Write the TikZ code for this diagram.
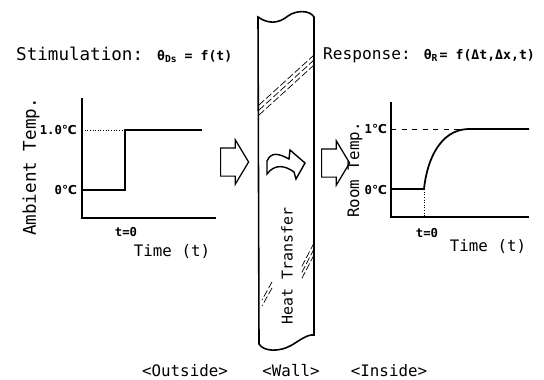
\documentclass[tikz,border=0pt]{standalone}
\usepackage{fontspec}
\setmainfont{DejaVu Sans Mono}
\newfontfamily\symfont{DejaVu Sans}
\usetikzlibrary{shapes.arrows}
\newcommand\degc{{\symfont ℃}}
\newcommand\lowsub[1]{\raisebox{-.35ex}{\fontsize{5.5}{6}\selectfont\bfseries #1}}
\newcommand\frm[1]{{\fontsize{7.5}{9}\selectfont\bfseries #1}}
\tikzset{
  ax/.style ={line width=.8pt},
  crv/.style={line width=1pt},
  gd/.style ={densely dotted,line width=.5pt},
  brk/.style={dash pattern=on 4pt off 1.5pt,line width=.4pt},
  blk/.style={single arrow,draw,line width=.7pt,minimum height=.56cm,
              inner xsep=0pt,inner ysep=.27cm,single arrow head extend=.16cm,
              single arrow tip angle=118,anchor=tail},
  ttl/.style={font=\fontsize{10}{12}\selectfont,anchor=west},
  lbl/.style={font=\fontsize{9}{11}\selectfont},
  tk/.style ={font=\fontsize{7}{8}\selectfont\bfseries,inner sep=1pt},
}

\begin{document}
\begin{tikzpicture}[x=0.02cm,y=-0.02cm]
  \useasboundingbox (0,0) rectangle (544,379);
  \node[ttl] (stim) at (10,55) {Stimulation: \frm{θ\lowsub{Ds} = f(t)}};
  \node[ttl,font=\fontsize{9.2}{11}\selectfont] (resp) at (317,55)
    {Response: \frm{θ\lowsub{R}\,= f(Δt,Δx,t)}};

  % outside: step input
  \draw[ax] (82,98) -- (82,218) -- (216,218);
  \draw[gd] (82,130) -- (125,130);
  \draw[crv] (82,190) -- (125,190) -- (125,130) -- (202,130);
  \node[tk,anchor=east] (a1) at (79,130) {1.0\degc};
  \node[tk,anchor=east] (a0) at (79,190) {0\degc};
  \node[tk] (at0) at (126,232) {t=0};
  \node[lbl] (atime) at (172,252) {Time (t)};
  \node[ttl,anchor=center,rotate=90] (aname) at (31,167) {Ambient Temp.};

  \node[blk] (inA) at (220,162) {};
  \node[blk] (outA) at (321,163) {};

  % wall
  \draw[line width=.9pt] (258,17) .. controls (268,24) and (278,24) .. (288,16)
    .. controls (296,10) and (310,10) .. (314,17) -- (314,335)
    .. controls (308,334) and (300,340) .. (292,345)
    .. controls (280,352) and (264,352) .. (259,344) -- cycle;
  \foreach \d in {0,5,10}
    \draw[brk] (259,105+\d) -- (314,55+\d);
  \foreach \d in {0,6,12}
    \draw[brk] (314,243+\d) -- (301,268+\d);
  \foreach \d in {0,6}
    \draw[brk] (272,282+\d) -- (262,300+\d);
  \draw[line width=.8pt] (267,161) .. controls (271,152) and (278,153) .. (289,159)
    -- (290,150) -- (305,163) -- (296,179) -- (294,172)
    .. controls (286,166) and (275,163) .. (267,174) -- cycle;
  \node[lbl,font=\fontsize{8.5}{10}\selectfont,rotate=90] (heat) at (287,266) {Heat Transfer};

  % inside: response
  \draw[ax] (391,102) -- (391,217) -- (529,217);
  \draw[dashed,line width=.5pt] (391,129) -- (468,129);
  \draw[gd] (424,189) -- (424,217);
  \draw[crv] (391,189) -- (424,189) .. controls (427,160) and (440,130) .. (468,129) -- (529,129);
  \node[tk,anchor=east] (r1) at (389,129) {1\degc};
  \node[tk,anchor=east] (r0) at (389,190) {0\degc};
  \node[tk] (rt0) at (427,233) {t=0};
  \node[lbl] (rtime) at (488,247) {Time (t)};
  \node[lbl,rotate=90] (rname) at (355,170) {Room Temp.};

  \node[lbl] (outs) at (185,371) {<Outside>};
  \node[lbl] (wall) at (291,371) {<Wall>};
  \node[lbl] (ins) at (389,371) {<Inside>};
\end{tikzpicture}
\end{document}
